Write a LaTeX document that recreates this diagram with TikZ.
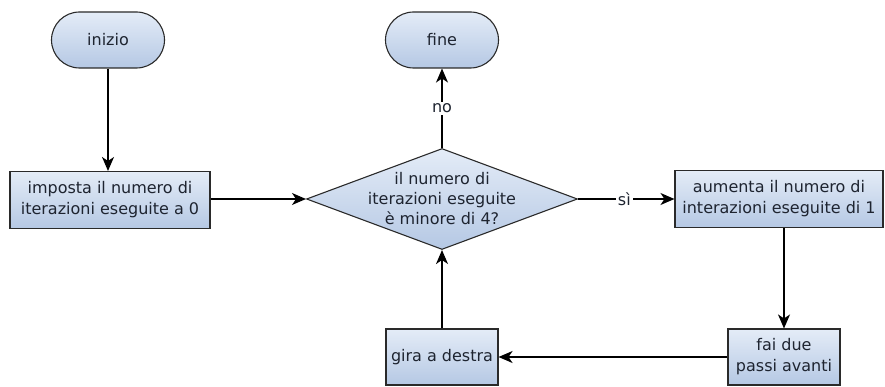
\documentclass[tikz,border=0pt]{standalone}
\usepackage{fontspec}
\setmainfont{DejaVu Sans}
\usetikzlibrary{shapes.geometric,shapes.misc,arrows.meta}
\definecolor{fillA}{HTML}{E4ECF7}
\definecolor{fillB}{HTML}{B5C8E4}
\definecolor{edge}{HTML}{2A2A2A}
\definecolor{txt}{HTML}{1E2430}
\tikzset{
  base/.style={draw=edge, line width=1.1pt, top color=fillA, bottom color=fillB, text=txt,
    font=\fontsize{16}{21}\selectfont, align=center, inner sep=0pt},
  term/.style={base, rounded rectangle, minimum width=113pt, minimum height=56pt},
  proc/.style={base, rectangle, minimum height=57pt},
  dec/.style={base, diamond, minimum width=271pt, minimum height=101pt, aspect=2.68},
  dectext/.style={font=\fontsize{16}{20}\selectfont, align=center, text=txt, inner sep=0pt},
  conn/.style={draw=black, line width=1.1pt, -{Stealth[length=14pt,width=12pt,inset=4pt]}},
  lbl/.style={fill=white, font=\fontsize{16}{18}\selectfont, inner sep=2pt, text=txt}
}
\begin{document}
\begin{tikzpicture}[x=1pt,y=-1pt]
\useasboundingbox (0,0) rectangle (885,387);
\node[term] (inizio) at (108,40) {inizio};
\node[term] (fine) at (442,40) {fine};
\node[proc, minimum width=200pt] (imposta) at (110,200) {imposta il numero di\\iterazioni eseguite a 0};
\node[dec] (cond) at (442,199) {};
\node[dectext] (condtext) at (cond.center) {il numero di\\iterazioni eseguite\\è minore di 4?};
\node[proc, minimum width=208pt] (aumenta) at (779,199) {aumenta il numero di\\interazioni eseguite di 1};
\node[proc, minimum width=112pt, minimum height=56pt] (fai) at (784,357) {fai due\\passi avanti};
\node[proc, minimum width=112pt, minimum height=56pt] (gira) at (442,357) {gira a destra};
\draw[conn] (inizio.south) -- (inizio.south |- imposta.north);
\draw[conn] (imposta.east |- cond.west) -- (cond.west);
\draw[conn] (cond.north) -- node[lbl, pos=0.5] (no) {no} (fine.south);
\draw[conn] (cond.east) -- node[lbl, pos=0.48] (si) {sì} (aumenta.west);
\draw[conn] (fai.north |- aumenta.south) -- (fai.north);
\draw[conn] (fai.west) -- (gira.east);
\draw[conn] (gira.north) -- (cond.south);
\end{tikzpicture}
\end{document}
